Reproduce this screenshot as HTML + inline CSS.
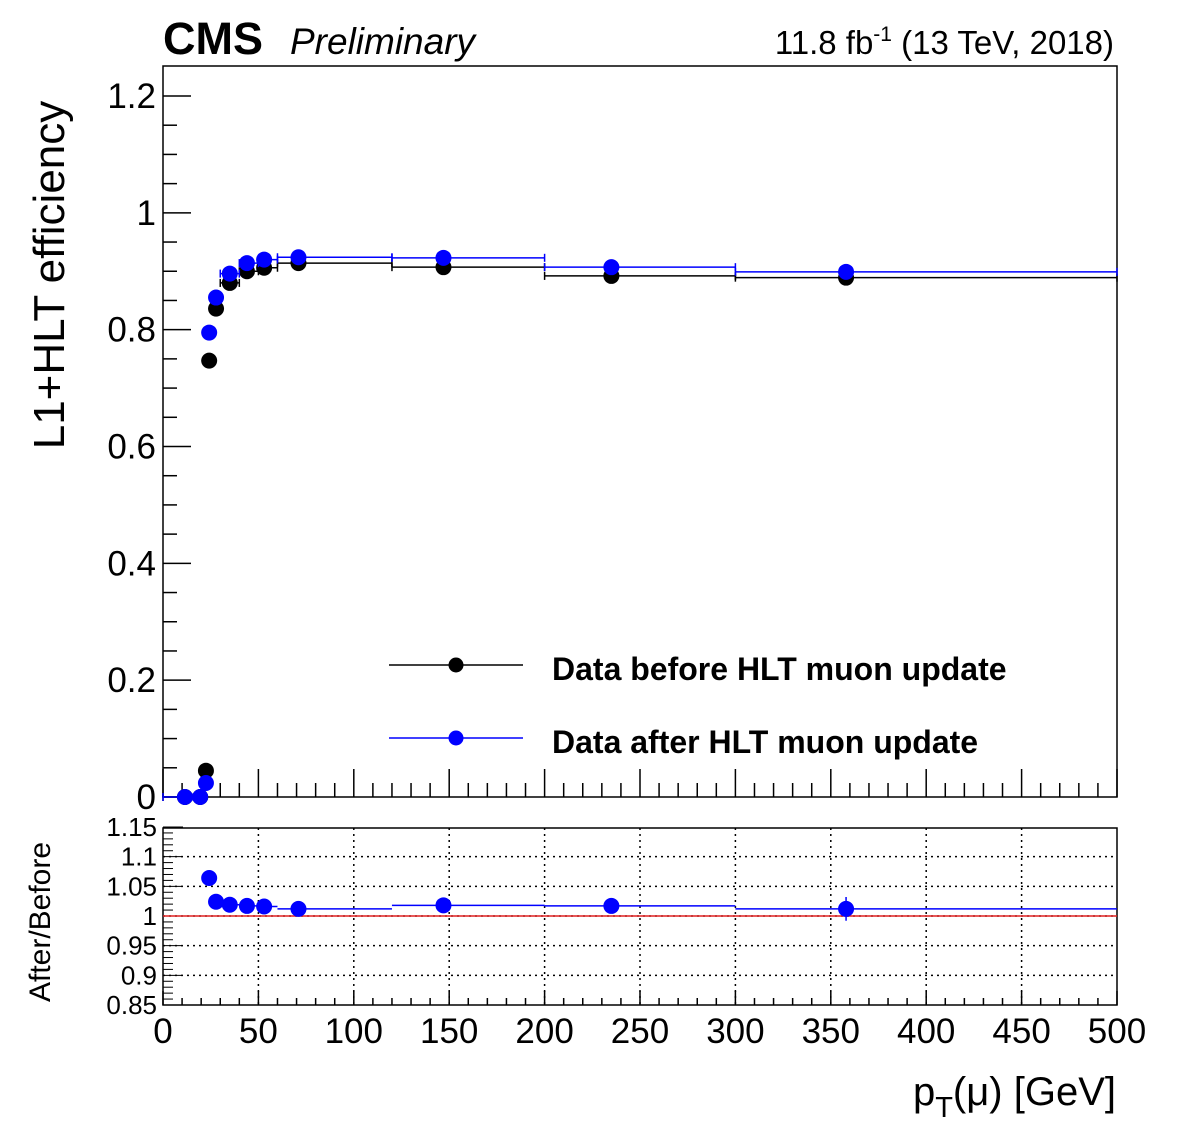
<!DOCTYPE html>
<html><head><meta charset="utf-8">
<style>
html,body{margin:0;padding:0;background:#fff;}
svg{display:block;font-family:"Liberation Sans",Arial,sans-serif;}
</style></head>
<body>
<svg id="c" width="1181" height="1145" viewBox="0 0 1181 1145" xmlns="http://www.w3.org/2000/svg">
<text x="163" y="54" font-size="45" font-weight="bold">CMS</text>
<text x="290" y="54" font-size="37" font-style="italic">Preliminary</text>
<text x="1114" y="54" font-size="33" text-anchor="end">11.8 fb<tspan dy="-13" font-size="21">-1</tspan><tspan dy="13"> (13 TeV, 2018)</tspan></text>
<text transform="translate(64,275) rotate(-90)" font-size="44" text-anchor="middle">L1+HLT efficiency</text>
<text transform="translate(50,922) rotate(-90)" font-size="30" text-anchor="middle">After/Before</text>
<text x="1116" y="1105" font-size="40" text-anchor="end">p<tspan dy="12" font-size="29">T</tspan><tspan dy="-12">(μ) [GeV]</tspan></text>
<g id="g"></g>
</svg>
<script>
const ptVals=[11.5,19.5,22.5,24.2,27.8,35,44,53,71,147,235,358];
const binLo=[0,15,20,23,25,30,40,50,60,120,200,300];
const binHi=[15,20,23,25,30,40,50,60,120,200,300,500];
const effBefore=[0,0,0.045,0.747,0.836,0.88,0.90,0.906,0.914,0.907,0.892,0.889];
const effAfter=[0,0,0.024,0.795,0.855,0.896,0.914,0.92,0.924,0.923,0.907,0.899];
const ratioVals=[null,null,null,1.064,1.024,1.019,1.017,1.016,1.012,1.018,1.017,1.012];
const ratioErr=[0,0,0,0.003,0.003,0.002,0.002,0.002,0.002,0.003,0.003,0.02];
const yTicks=[0,0.2,0.4,0.6,0.8,1,1.2];
const yTickLabels=["0","0.2","0.4","0.6","0.8","1","1.2"];
const rTicks=[0.85,0.9,0.95,1,1.05,1.1,1.15];
const rTickLabels=["0.85","0.9","0.95","1","1.05","1.1","1.15"];
const xTicks=[0,50,100,150,200,250,300,350,400,450,500];

const NS="http://www.w3.org/2000/svg";
const g=document.getElementById('g');
const X0=163,X1=1117,T=66,B=797,RT=828,RB=1005;
const xs=v=>X0+(v/500)*(X1-X0);
const ys=v=>B-v/1.2*(B-96);
const rs=v=>RB-(v-0.85)/0.3*(RB-RT+1);
function el(tag,a,name,parent){const e=document.createElementNS(NS,tag);for(const k in a)e.setAttribute(k,a[k]);


(parent||g).appendChild(e);return e;}
function line(x1,y1,x2,y2,s,w,name,extra){const a={x1,y1,x2,y2,stroke:s,'stroke-width':w};Object.assign(a,extra||{});return el('line',a,name);}
el('rect',{x:X0,y:T,width:X1-X0,height:B-T,fill:'none',stroke:'#000','stroke-width':1.5},'main-frame');
el('rect',{x:X0,y:RT,width:X1-X0,height:RB-RT,fill:'none',stroke:'#000','stroke-width':1.5},'ratio-frame');
for(let i=0;i<=24;i++){const v=i*0.05;const y=ys(v);const big=i%4==0;
line(X0,y,X0+(big?28:14),y,'#000',1.5,'y-tick');}
yTicks.forEach((v,i)=>{const t=el('text',{x:X0-7,y:ys(v)+12,'font-size':35,'text-anchor':'end'},'y-tick-label');t.textContent=yTickLabels[i];});
for(let v=0;v<=500;v+=10){const x=xs(v);const big=v%50==0;
line(x,B,x,B-(big?28:14),'#000',1.5,'x-tick');
line(x,RB,x,RB-(big?14:7),'#000',1.5,'ratio-x-tick');}
xTicks.forEach(v=>{const t=el('text',{x:xs(v),y:1043,'font-size':35,'text-anchor':'middle'},'x-tick-label');t.textContent=v;});
xTicks.slice(1,-1).forEach(v=>line(xs(v),RT,xs(v),RB,'#000',1.5,'ratio-grid-v',{'stroke-dasharray':'2,4'}));
rTicks.forEach((v,i)=>{if(i>0&&i<rTicks.length-1)line(X0,rs(v),X1,rs(v),'#000',1.5,'ratio-grid-h',{'stroke-dasharray':'2,4'});
const t=el('text',{x:X0-6,y:rs(v)+9,'font-size':26,'text-anchor':'end'},'ratio-tick-label');t.textContent=rTickLabels[i];});
for(let i=0;i<=30;i++){const v=0.85+i*0.01;line(X0,rs(v),X0+(i%5==0?20:10),rs(v),'#000',1,'ratio-y-tick');}
line(X0,rs(1),X1,rs(1),'#e02020',1.5,'ratio-unity-line');
function series(vals,col,name){vals.forEach((v,i)=>{const y=ys(v);
line(xs(binLo[i]),y,xs(binHi[i]),y,col,1.5,name+'-xerr');
line(xs(binLo[i]),y-4,xs(binLo[i]),y+4,col,1.5,name+'-xerr-cap');
line(xs(binHi[i]),y-4,xs(binHi[i]),y+4,col,1.5,name+'-xerr-cap');
el('circle',{cx:xs(ptVals[i]),cy:y,r:8,fill:col},name+'-point');});}
series(effBefore,'#000','before');
series(effAfter,'#0000ff','after');
ratioVals.forEach((v,i)=>{if(v===null)return;const y=rs(v),x=xs(ptVals[i]);
line(xs(binLo[i]),y,xs(binHi[i]),y,'#0000ff',1.5,'ratio-xerr');
line(x,rs(v-ratioErr[i]),x,rs(v+ratioErr[i]),'#0000ff',1.5,'ratio-yerr');
el('circle',{cx:x,cy:y,r:8,fill:'#0000ff'},'ratio-point');});
line(389,665,523,665,'#000',1.5,'legend-before-line');el('circle',{cx:456,cy:665,r:7.5,fill:'#000'},'legend-before-marker');
line(389,738,523,738,'#0000ff',1.5,'legend-after-line');el('circle',{cx:456,cy:738,r:7.5,fill:'#0000ff'},'legend-after-marker');
let t=el('text',{x:552,y:680,'font-size':32,'font-weight':'bold'},'legend-before-label');t.textContent='Data before HLT muon update';
t=el('text',{x:552,y:753,'font-size':32,'font-weight':'bold'},'legend-after-label');t.textContent='Data after HLT muon update';
</script>
</body></html>
